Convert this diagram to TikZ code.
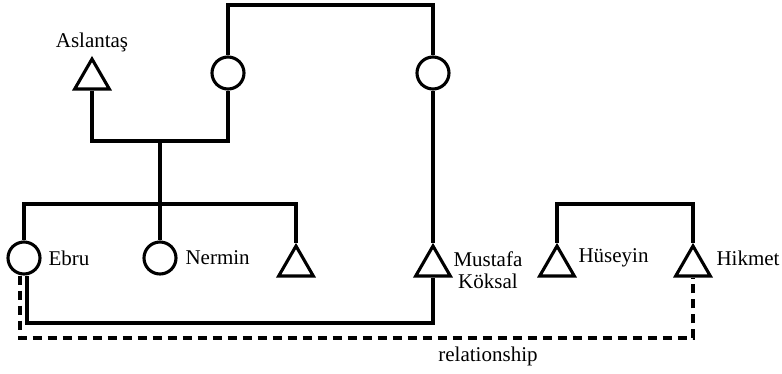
\documentclass[tikz,border=0pt]{standalone}
\usepackage{fontspec}
\setmainfont{Liberation Serif}
\usetikzlibrary{shapes.geometric}
\begin{document}
\begin{tikzpicture}[x=1pt,y=-1pt,
  line width=3.1pt,
  female/.style={circle,draw,minimum size=32pt,inner sep=0pt},
  male/.style={regular polygon,regular polygon sides=3,draw,minimum size=40pt,inner sep=0pt},
  lbl/.style={font=\fontsize{21}{22}\selectfont,inner sep=0pt},
  rel/.style={dash pattern=on 9pt off 6pt}]
\useasboundingbox (0,0) rectangle (782,373);
% people
\node[male] (A) at (92,79) {};
\node[female] (c1) at (228,73) {};
\node[female] (c2) at (433,73) {};
\node[female] (E) at (24,258) {};
\node[female] (N) at (160,258) {};
\node[male] (T3) at (296,266) {};
\node[male] (M) at (433,266) {};
\node[male] (Hu) at (557,266) {};
\node[male] (Hi) at (693,266) {};
% labels
\node[lbl] (lA) at (92,42) {Aslantaş};
\node[lbl,anchor=west] (lE) at (47,258) {Ebru};
\node[lbl,anchor=west] (lN) at (184,258) {Nermin};
\node[lbl,anchor=west,align=center] (lM) at (452,270) {Mustafa\\Köksal};
\node[lbl,anchor=west] (lHu) at (577,258) {Hüseyin};
\node[lbl,anchor=west] (lHi) at (715,258) {Hikmet};
\node[lbl] (lR) at (488,356) {relationship};
% coordinates
\coordinate (top) at (330,5);
\coordinate (m) at (160,141);
\coordinate (sib) at (160,204);
\coordinate (s2) at (625,204);
\coordinate (b1) at (230,323);
\coordinate (b2) at (480,338);
% connectors
\draw (c1.north) |- (top) -| (c2.north);
\draw (A.south) |- (m) -| (c1.south);
\draw (m) -- (sib);
\draw (E.north) |- (sib) -| (T3.corner 1);
\draw (sib) -- (N.north);
\draw (c2.south) -- (M.corner 1);
\draw (Hu.corner 1) |- (s2) -| (Hi.corner 1);
\draw ([xshift=3pt]E.south) |- (b1) -| (M.south);
\draw[rel] ([xshift=-4pt]E.south) |- (b2) -| (Hi.south);
\end{tikzpicture}
\end{document}
